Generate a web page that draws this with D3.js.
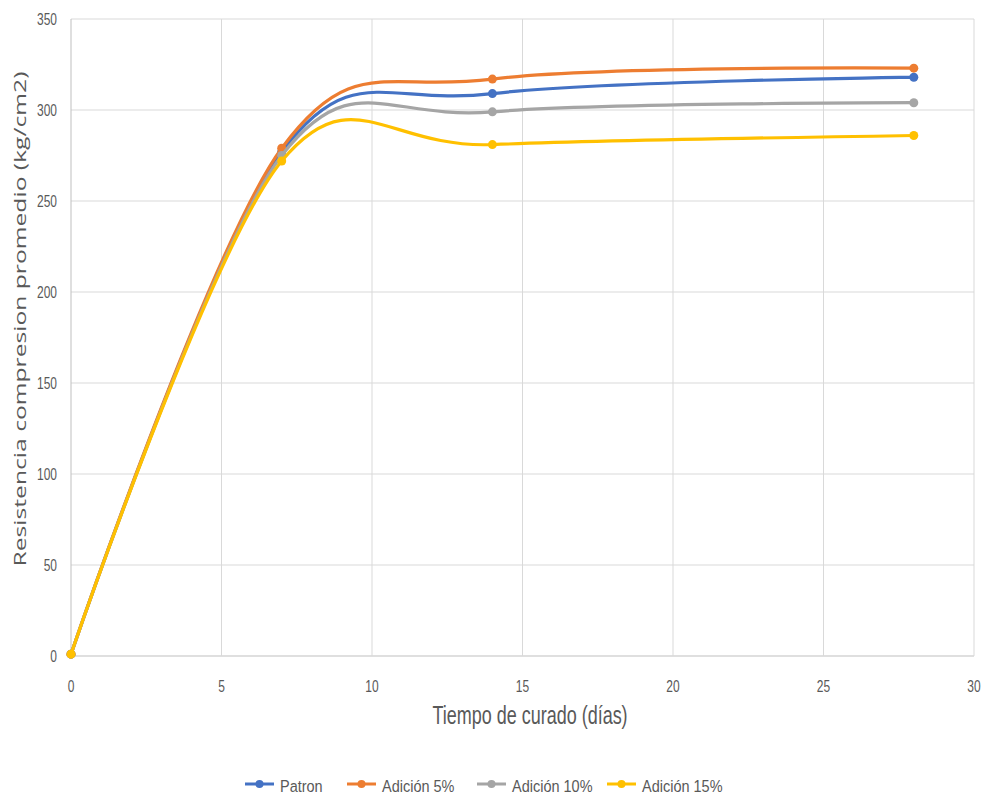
<!DOCTYPE html>
<html><head><meta charset="utf-8">
<script src="https://cdn.jsdelivr.net/npm/d3@7"></script>
<style>body{margin:0;background:#fff;}</style>
</head><body>
<svg id="c" width="987" height="796"></svg>
<script>
const days = [0, 7, 14, 28];
const patron = [1, 277, 309, 318];
const adicion5 = [1, 279, 317, 323];
const adicion10 = [1, 275, 299, 304];
const adicion15 = [1, 272, 281, 286];
const seriesNames = ["Patron", "Adición 5%", "Adición 10%", "Adición 15%"];
const seriesColors = ["#4472C4", "#ED7D31", "#A5A5A5", "#FFC000"];
const xTicks = [0, 5, 10, 15, 20, 25, 30];
const yTicks = [0, 50, 100, 150, 200, 250, 300, 350];

const series = [patron, adicion5, adicion10, adicion15].map((v, i) => ({
  name: seriesNames[i], color: seriesColors[i],
  pts: v.map((y, j) => [days[j], y])
}));

const svg = d3.select("#c");
const x = d3.scaleLinear().domain([0, 30]).range([71, 974]);
const y = d3.scaleLinear().domain([0, 350]).range([656, 19]);
const sans = "'Liberation Sans', Arial, sans-serif";
const txt = "#595959";

// gridlines
svg.append("g").selectAll("line").data(yTicks).join("line")
  .attr("x1", x(0)).attr("x2", x(30)).attr("y1", d => y(d)).attr("y2", d => y(d))
  .attr("stroke", d => d === 0 ? "#bfbfbf" : "#d9d9d9").attr("stroke-width", 1);
svg.append("g").selectAll("line").data(xTicks).join("line")
  .attr("y1", y(0)).attr("y2", y(350)).attr("x1", d => x(d)).attr("x2", d => x(d))
  .attr("stroke", d => d === 0 ? "#bfbfbf" : "#d9d9d9").attr("stroke-width", 1);

// tick labels (vertically stretched like the reference)
svg.append("g").selectAll("text").data(yTicks).join("text")
  .attr("transform", d => `translate(57,${y(d) + 6}) scale(1,1.4)`)
  .attr("text-anchor", "end").attr("fill", txt)
  .style("font-family", sans).style("font-size", "12px").text(d => d);
svg.append("g").selectAll("text").data(xTicks).join("text")
  .attr("transform", d => `translate(${x(d)},692) scale(1,1.4)`)
  .attr("text-anchor", "middle").attr("fill", txt)
  .style("font-family", sans).style("font-size", "12px").text(d => d);

// lines
const line = d3.line().x(d => x(d[0])).y(d => y(d[1])).curve(d3.curveCardinal.tension(0));
series.forEach(s => {
  svg.append("path").attr("d", line(s.pts)).attr("fill", "none")
    .attr("stroke", s.color).attr("stroke-width", 3.2).attr("stroke-linecap", "round");
  svg.append("g").selectAll("circle").data(s.pts).join("circle")
    .attr("cx", d => x(d[0])).attr("cy", d => y(d[1])).attr("r", 4.5).attr("fill", s.color);
});

// titles
svg.append("text").attr("transform", "translate(530,724) scale(1,1.4)").attr("text-anchor", "middle")
  .attr("fill", txt).style("font-family", sans).style("font-size", "18px")
  .text("Tiempo de curado (días)");
svg.append("text").attr("transform", "translate(25.5,319) rotate(-90) scale(1.45,1)").attr("text-anchor", "middle")
  .attr("fill", txt).style("font-family", "'Open Sans', 'DejaVu Sans', sans-serif").style("font-size", "17px")
  .text("Resistencia compresion promedio (kg/cm2)");

// legend
const legX = [245, 347, 477, 607];
series.forEach((s, i) => {
  const g = svg.append("g").attr("transform", `translate(${legX[i]},784)`);
  g.append("line").attr("x1", 0).attr("x2", 29).attr("stroke", s.color).attr("stroke-width", 3);
  g.append("circle").attr("cx", 14.5).attr("r", 4).attr("fill", s.color);
  g.append("text").attr("transform", "translate(35,8) scale(1,1.12)").attr("fill", txt)
    .style("font-family", sans).style("font-size", "14.5px").text(s.name);
});
</script>
</body></html>
